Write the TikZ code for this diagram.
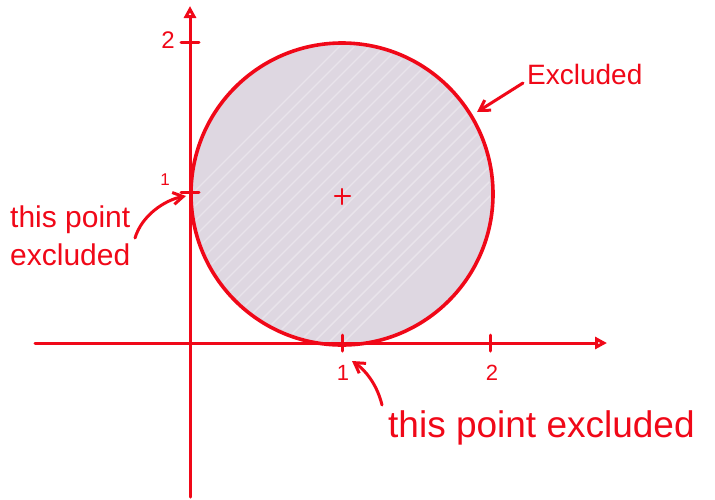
\documentclass[tikz,border=0pt]{standalone}
\usepackage{fontspec}
\setmainfont{Liberation Sans}
\usetikzlibrary{arrows.meta}
\definecolor{pen}{RGB}{240,8,24}
\definecolor{discfill}{RGB}{222,215,225}
\begin{document}
\begin{tikzpicture}[x=1pt,y=-1pt,
  pen/.style={draw=pen,line width=3.4pt,line cap=round,line join=round},
  axisarrow/.style={pen,line width=3pt,-{Triangle[open,length=12pt,width=12pt,line width=3pt]}},
  ptr/.style={pen,line width=3pt,-{Straight Barb[length=10pt,width=12pt,line width=3pt]}},
  lbl/.style={text=pen,inner sep=0pt},
  tick/.style={pen,line width=3pt}]
\useasboundingbox (0,0) rectangle (715,499);
% shaded disc
\fill[discfill] (342,194) circle (150);
\begin{scope}
  \clip (342,194) circle (148);
  \foreach \i in {-150,-135,...,150}{
    \draw[white,opacity=0.35,line width=1.4pt] (342+\i-170,194+170) -- (342+\i+170,194-170);}
\end{scope}
% axes
\coordinate (xs) at (35,343);
\coordinate (xe) at (607,343);
\coordinate (ys) at (190,497);
\coordinate (ye) at (190,6);
\draw[axisarrow] (xs) -- (xe);
\draw[axisarrow] (ys) -- (ye);
% ticks
\draw[tick] (342,335) -- (342,351);
\draw[tick] (490,335) -- (490,351);
\draw[tick] (181,42) -- (199,42);
\draw[tick] (181,192) -- (199,192);
\node[lbl,font=\fontsize{22}{22}\selectfont] (x1) at (343,373) {1};
\node[lbl,font=\fontsize{22}{22}\selectfont] (x2) at (492,373) {2};
\node[lbl,font=\fontsize{24}{24}\selectfont] (y2) at (168,40) {2};
\node[lbl,font=\fontsize{17}{17}\selectfont] (y1) at (165,180) {1};
% circle
\node[circle,draw=pen,line width=3.6pt,minimum size=302pt,inner sep=0pt] (disc) at (342,194) {};
% centre plus
\draw[pen,line width=2.4pt] (335,196) -- (350,196) (342,189) -- (342,204);
% labels
\node[lbl,font=\fontsize{28}{28}\selectfont,anchor=west] (ex) at (527,74) {Excluded};
\node[lbl,font=\fontsize{30}{38}\selectfont,align=left,anchor=west] (lp) at (10,236) {this point\\excluded};
\node[lbl,font=\fontsize{37}{37}\selectfont,anchor=west] (bp) at (388,428) {this point excluded};
% pointers
\coordinate (exs) at (523,83);
\coordinate (exe) at (477,112);
\draw[ptr] (exs) -- (exe);
\coordinate (lps) at (135,238);
\coordinate (lpe) at (186,196);
\draw[ptr] (lps) .. controls (142,215) and (165,200) .. (lpe);
\coordinate (bps) at (382,405);
\coordinate (bpe) at (352,361);
\draw[ptr] (bps) .. controls (378,388) and (368,372) .. (bpe);
\end{tikzpicture}
\end{document}
